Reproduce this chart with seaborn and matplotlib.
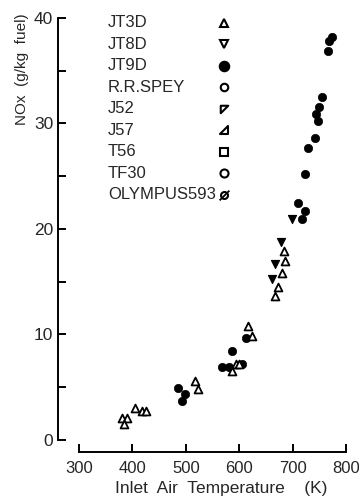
import matplotlib
matplotlib.use('Agg')
import matplotlib.pyplot as plt
import seaborn as sns
import pandas as pd
from matplotlib.path import Path

# ---- data ----
jt3d_T = [380, 390, 384, 405, 418, 425, 517, 523, 594, 600, 586, 616, 624, 684, 686, 680, 673, 667]
jt3d_v = [2.1, 2.1, 1.5, 3.0, 2.7, 2.7, 5.6, 4.8, 7.2, 7.2, 6.5, 10.8, 9.9, 17.9, 17.0, 15.8, 14.5, 13.6]

jt8d_T = [678, 667, 661, 699]
jt8d_v = [18.8, 16.7, 15.3, 20.9]

jt9d_T = [485, 493, 498, 568, 581, 586, 605, 613, 710, 718, 723, 723, 729, 742, 748, 744, 749, 755, 766, 768, 774]
jt9d_v = [4.9, 3.7, 4.4, 6.9, 6.9, 8.4, 7.2, 9.7, 22.5, 20.9, 21.7, 25.2, 27.7, 28.6, 30.2, 30.9, 31.6, 32.5, 36.9, 37.8, 38.2]

legend_labels = ["JT3D", "JT8D", "JT9D", "R.R.SPEY", "J52", "J57", "T56", "TF30", "OLYMPUS593"]
x_ticks = [300, 400, 500, 600, 700, 800]
y_ticks = [0, 10, 20, 30, 40]
y_minor = [5, 15, 25, 35]

sns.set_style('ticks')
plt.rcParams['font.family'] = ['Liberation Sans', 'DejaVu Sans']

fig = plt.figure(figsize=(3.59, 4.99), dpi=100)
ax = fig.add_axes([58/359, 47/499, 292/359, 437/499])

df3 = pd.DataFrame({'T': jt3d_T, 'v': jt3d_v})
df8 = pd.DataFrame({'T': jt8d_T, 'v': jt8d_v})
df9 = pd.DataFrame({'T': jt9d_T, 'v': jt9d_v})

sns.scatterplot(data=df9, x='T', y='v', marker='o', s=36, color='black', edgecolor='black', linewidth=0.5, ax=ax, zorder=3)
sns.scatterplot(data=df8, x='T', y='v', marker='v', s=34, color='black', edgecolor='black', linewidth=0.8, ax=ax, zorder=3)
sns.scatterplot(data=df3, x='T', y='v', marker='^', s=32, color='white', edgecolor='black', linewidth=1.3, ax=ax, zorder=4)

ax.set_xlim(260.7, 807.5)
ax.set_ylim(-1.14, 40.28)
ax.set_xticks(x_ticks)
ax.set_yticks(y_ticks)
ax.set_yticks(y_minor, minor=True)
ax.tick_params(axis='both', which='both', direction='in', length=6, width=1.4, color='black')
ax.tick_params(axis='x', pad=6.5, labelsize=12)
ax.tick_params(axis='y', pad=3.5, labelsize=12.5)

for s in ['top', 'right']:
    ax.spines[s].set_visible(False)
for s in ['left', 'bottom']:
    ax.spines[s].set_linewidth(1.4)
    ax.spines[s].set_color('black')
ax.spines['left'].set_bounds(0, 40)
ax.spines['bottom'].set_bounds(300, 800)

ax.set_xlabel('Inlet  Air  Temperature    (K)', fontsize=12.5)
ax.set_ylabel('NOx  (g/kg  fuel)', fontsize=11)
ax.xaxis.set_label_coords(0.56, -0.066)
ax.yaxis.set_label_coords(-0.1, 0.876)

# ---- legend (labels left, symbols in a column on the right) ----
tri_dl = Path([(-1, 1), (1, 1), (-1, -1), (-1, 1)],
              [Path.MOVETO, Path.LINETO, Path.LINETO, Path.CLOSEPOLY])
tri_ur = Path([(1, 1), (1, -1), (-1, -1), (1, 1)],
              [Path.MOVETO, Path.LINETO, Path.LINETO, Path.CLOSEPOLY])
slash = Path([(-1, -1), (1, 1)], [Path.MOVETO, Path.LINETO])
leg_markers = [
    dict(marker='^', ms=6.4, mfc='white'),
    dict(marker='v', ms=6.4, mfc='white'),
    dict(marker='o', ms=6.8, mfc='black'),
    dict(marker='o', ms=5.4, mfc='white'),
    dict(marker=tri_dl, ms=5.4, mfc='white'),
    dict(marker=tri_ur, ms=5.4, mfc='white'),
    dict(marker='s', ms=5.8, mfc='white'),
    dict(marker='o', ms=5.8, mfc='white'),
    dict(marker='o', ms=5.0, mfc='white'),
]
x_text, x_mark, y0, dy = 0.171, 0.568, 0.982, 0.0492
for i, (lab, mk) in enumerate(zip(legend_labels, leg_markers)):
    y = y0 - i * dy
    ax.text(x_text, y, lab, transform=ax.transAxes, ha='left', va='center', fontsize=12)
    ax.plot([x_mark], [y], transform=ax.transAxes, color='black', mec='black', mew=1.5,
            ls='none', clip_on=False, **mk)
    if lab == 'OLYMPUS593':
        ax.plot([x_mark], [y], transform=ax.transAxes, color='black', mew=1.3,
                marker=slash, ms=7, ls='none', clip_on=False)

fig.savefig('out.png', dpi=100)
